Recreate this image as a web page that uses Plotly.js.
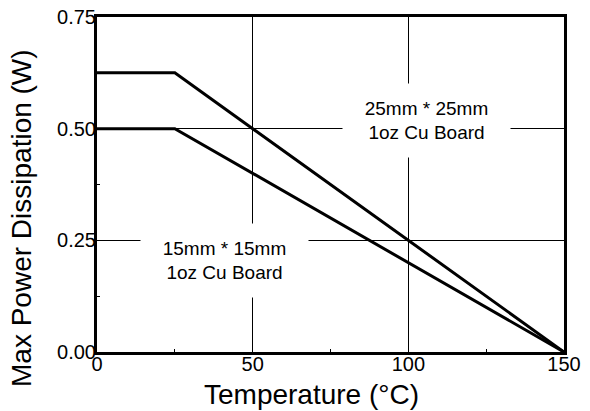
<!DOCTYPE html>
<html><head><meta charset="utf-8">
<script src="https://cdn.plot.ly/plotly-3.0.1.min.js"></script>
<style>html,body{margin:0;padding:0;background:#fff}#chart{width:590px;height:411px}</style>
</head><body><div id="chart"></div>
<script>
const temps = [0, 25, 150];
const power25mm = [0.625, 0.625, 0];
const power15mm = [0.5, 0.5, 0];
const labels = ["25mm * 25mm<br>1oz Cu Board", "15mm * 15mm<br>1oz Cu Board"];
const labelX = [105.9, 40.9];
const labelY = [0.518, 0.205];
const xTitle = "Temperature (°C)";
const yTitle = "Max Power Dissipation (W)";

const font = "Liberation Sans, Arial, Helvetica, sans-serif";
const traces = [
  {x: temps, y: power25mm, mode: "lines", line: {color: "#000", width: 3}, cliponaxis: false},
  {x: temps, y: power15mm, mode: "lines", line: {color: "#000", width: 3}, cliponaxis: false}
];
const annotations = labels.map((t, i) => ({
  x: labelX[i], y: labelY[i], xref: "x", yref: "y", text: t, showarrow: false,
  bgcolor: "#fff", width: 167, height: 73, borderpad: 0,
  font: {family: font, size: 19, color: "#000"}
}));
annotations.push({
  xref: "paper", yref: "paper", x: (311 - 97) / 467, y: (352 - 394) / 335,
  xanchor: "center", yanchor: "middle", showarrow: false, text: xTitle,
  font: {family: font, size: 28, color: "#000"}
});
annotations.push({
  xref: "paper", yref: "paper", x: (21 - 97) / 467, y: (352 - 218) / 335,
  xanchor: "center", yanchor: "middle", showarrow: false, text: yTitle, textangle: -90,
  font: {family: font, size: 28, color: "#000"}
});
const layout = {
  width: 590, height: 411,
  margin: {l: 97, r: 26, t: 17, b: 59},
  paper_bgcolor: "#fff", plot_bgcolor: "#fff",
  showlegend: false,
  font: {family: font, color: "#000"},
  xaxis: {
    range: [0, 150], tickvals: [0, 50, 100, 150], ticktext: ["0", "50", "100", "150"],
    showgrid: true, gridcolor: "#000", gridwidth: 1, zeroline: false,
    showline: true, linecolor: "#000", linewidth: 3, mirror: true,
    ticks: "", tickfont: {size: 20, family: font}, ticklabelstandoff: -8,
    minor: {ticks: "inside", ticklen: 3, tickcolor: "#000", tickvals: [25, 75, 125], showgrid: false}
  },
  yaxis: {
    range: [0, 0.75], tickvals: [0, 0.25, 0.5, 0.75], ticktext: ["0.00", "0.25", "0.50", "0.75"],
    showgrid: true, gridcolor: "#000", gridwidth: 1, zeroline: false,
    showline: true, linecolor: "#000", linewidth: 3, mirror: true,
    ticks: "", tickfont: {size: 20, family: font}, ticklabelstandoff: -6,
    minor: {ticks: "inside", ticklen: 3, tickcolor: "#000", tickvals: [0.125, 0.375, 0.625], showgrid: false}
  },
  annotations: annotations
};
Plotly.newPlot("chart", traces, layout, {displayModeBar: false, staticPlot: true});
</script></body></html>
